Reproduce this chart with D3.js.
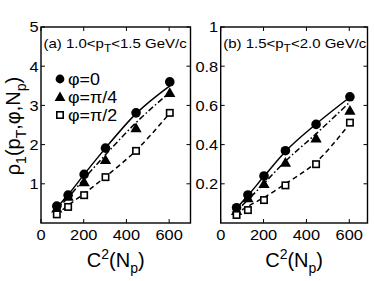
<!DOCTYPE html>
<html>
<head>
<meta charset="utf-8">
<script src="https://cdn.jsdelivr.net/npm/d3@7"></script>
<style>
  body { margin: 0; background: #fff; }
  svg text { font-family: "Liberation Sans", Arial, sans-serif; fill: #000; }
</style>
</head>
<body>
<div id="chart"></div>
<script>
// C^2(Np) for every point
var xVals = [74, 127, 202, 302, 445, 603];

// panel (a) 1.0<pT<1.5
var aPhi0   = [0.43, 0.71, 1.24, 1.91, 2.81, 3.60];
var aPhi4   = [0.37, 0.67, 1.04, 1.61, 2.42, 3.32];
var aPhi2   = [0.22, 0.41, 0.71, 1.17, 1.84, 2.81];
// fit curves: [x, y]
var aFit0 = [[64, 0.33], [127, 0.72], [202, 1.24], [302, 1.91], [445, 2.79], [603, 3.50]];
var aFit4 = [[64, 0.30], [127, 0.65], [202, 1.13], [302, 1.74], [445, 2.56], [603, 3.33]];
var aFit2 = [[70, 0.20], [127, 0.45], [202, 0.75], [302, 1.18], [445, 1.85], [590, 2.72]];

// panel (b) 1.5<pT<2.0
var bPhi0   = [0.078, 0.143, 0.240, 0.369, 0.503, 0.644];
var bPhi4   = [0.061, 0.126, 0.199, 0.308, 0.432, 0.573];
var bPhi2   = [0.041, 0.066, 0.117, 0.192, 0.300, 0.512];
var bFit0 = [[57, 0.055], [127, 0.140], [202, 0.238], [302, 0.365], [445, 0.505], [598, 0.638]];
var bFit4 = [[57, 0.045], [127, 0.118], [202, 0.202], [302, 0.315], [445, 0.455], [598, 0.612]];
var bFit2 = [[65, 0.045], [127, 0.085], [202, 0.130], [302, 0.200], [445, 0.310], [590, 0.490]];

var xTicks = [0, 200, 400, 600];
var aYTicks = [1, 2, 3, 4, 5];
var bYTicks = [0.2, 0.4, 0.6, 0.8, 1];
var legendLabels = ["\u03c6=0", "\u03c6=\u03c0/4", "\u03c6=\u03c0/2"];

var W = 374, H = 281;
var svg = d3.select("#chart").append("svg").attr("width", W).attr("height", H);

var plotTop = 27, plotBottom = 223;

// text that is a little wider than the font, like the original figure
function wideText(parent, x, y, sx, size, anchor) {
  return parent.append("g").attr("transform", "translate(" + x + "," + y + ") scale(" + sx + ",1)")
    .append("text").attr("text-anchor", anchor || "start").style("font-size", size + "px");
}

function drawPanel(opt) {
  var x = d3.scaleLinear().domain([0, opt.xmax]).range([opt.left, opt.right]);
  var y = d3.scaleLinear().domain([0, opt.ymax]).range([plotBottom, plotTop]);
  var g = svg.append("g");

  // frame
  g.append("rect").attr("x", opt.left).attr("y", plotTop)
    .attr("width", opt.right - opt.left).attr("height", plotBottom - plotTop)
    .attr("fill", "none").attr("stroke", "#000").attr("stroke-width", 1.4);

  // inward ticks on all sides
  var tl = 4;
  xTicks.forEach(function(t) {
    g.append("line").attr("x1", x(t)).attr("x2", x(t)).attr("y1", plotBottom).attr("y2", plotBottom - tl).attr("stroke", "#000");
    g.append("line").attr("x1", x(t)).attr("x2", x(t)).attr("y1", plotTop).attr("y2", plotTop + tl).attr("stroke", "#000");
    wideText(g, x(t), plotBottom + 17, 1.13, 14.5, "middle").text(t);
  });
  opt.yTicks.forEach(function(t) {
    g.append("line").attr("x1", opt.left).attr("x2", opt.left + tl).attr("y1", y(t)).attr("y2", y(t)).attr("stroke", "#000");
    g.append("line").attr("x1", opt.right).attr("x2", opt.right - tl).attr("y1", y(t)).attr("y2", y(t)).attr("stroke", "#000");
    wideText(g, opt.left - 2.5, y(t) + 5.3, 1.13, 14.5, "end").text(t);
  });

  // panel title
  var tt = wideText(g, opt.left + 2.5, plotTop + 21, 1.2, 12.5);
  tt.append("tspan").text(opt.title[0]);
  tt.append("tspan").attr("dy", 4).style("font-size", "10px").text("T");
  tt.append("tspan").attr("dy", -4).text(opt.title[1]);

  var line = d3.line().x(function(d) { return x(d[0]); }).y(function(d) { return y(d[1]); })
    .curve(d3.curveMonotoneX);

  var styles = [
    { fit: opt.fits[0], dash: null },
    { fit: opt.fits[1], dash: "6,2.5,1.5,2.5" },
    { fit: opt.fits[2], dash: "5,3.5" }
  ];
  styles.forEach(function(s) {
    g.append("path").datum(s.fit).attr("d", line).attr("fill", "none")
      .attr("stroke", "#000").attr("stroke-width", 1.5)
      .attr("stroke-dasharray", s.dash);
  });

  var pts = function(vals) { return vals.map(function(v, i) { return [xVals[i], v]; }); };

  g.selectAll(".c").data(pts(opt.series[0])).enter().append("circle")
    .attr("cx", function(d) { return x(d[0]); }).attr("cy", function(d) { return y(d[1]); })
    .attr("r", 4.8).attr("fill", "#000");

  var tri = d3.symbol().type(d3.symbolTriangle).size(55);
  g.selectAll(".t").data(pts(opt.series[1])).enter().append("path")
    .attr("d", tri).attr("transform", function(d) { return "translate(" + x(d[0]) + "," + (y(d[1]) + 0.8) + ")"; })
    .attr("fill", "#000");

  g.selectAll(".s").data(pts(opt.series[2])).enter().append("rect")
    .attr("x", function(d) { return x(d[0]) - 3.2; }).attr("y", function(d) { return y(d[1]) - 3.2; })
    .attr("width", 6.4).attr("height", 6.4)
    .attr("fill", "#fff").attr("stroke", "#000").attr("stroke-width", 1.6);

  // x label
  var xl = g.append("text").attr("x", (opt.left + opt.right) / 2).attr("y", 267)
    .attr("text-anchor", "middle").style("font-size", "20px");
  xl.append("tspan").text("C");
  xl.append("tspan").attr("dy", -8).style("font-size", "14px").text("2");
  xl.append("tspan").attr("dy", 8).text("(N");
  xl.append("tspan").attr("dy", 6).style("font-size", "14px").text("p");
  xl.append("tspan").attr("dy", -6).text(")");

  return { x: x, y: y, g: g };
}

var pa = drawPanel({
  left: 41, right: 190.5, xmax: 700, ymax: 5, yTicks: aYTicks,
  title: ["(a) 1.0<p", "<1.5 GeV/c"],
  series: [aPhi0, aPhi4, aPhi2], fits: [aFit0, aFit4, aFit2]
});

var pb = drawPanel({
  left: 220.7, right: 367.5, xmax: 685, ymax: 1, yTicks: bYTicks,
  title: ["(b) 1.5<p", "<2.0 GeV/c"],
  series: [bPhi0, bPhi4, bPhi2], fits: [bFit0, bFit4, bFit2]
});

// legend in panel (a)
var lg = svg.append("g");
var ly = [79, 97, 115];
legendLabels.forEach(function(lab, i) {
  var cy = ly[i], cx = 60;
  if (i === 0) lg.append("circle").attr("cx", cx).attr("cy", cy).attr("r", 4.4).attr("fill", "#000");
  if (i === 1) lg.append("path").attr("d", d3.symbol().type(d3.symbolTriangle).size(50)())
    .attr("transform", "translate(" + cx + "," + (cy + 0.8) + ")").attr("fill", "#000");
  if (i === 2) lg.append("rect").attr("x", cx - 3.2).attr("y", cy - 3.2).attr("width", 6.4).attr("height", 6.4)
    .attr("fill", "#fff").attr("stroke", "#000").attr("stroke-width", 1.6);
  wideText(lg, 68, cy + 6, 1.05, 17).text(lab);
});

// y label
var yl = svg.append("text").attr("transform", "translate(20,126) rotate(-90)")
  .attr("text-anchor", "middle").style("font-size", "20px");
yl.append("tspan").text("\u03c1");
yl.append("tspan").attr("dy", 6).style("font-size", "14px").text("1");
yl.append("tspan").attr("dy", -6).text("(p");
yl.append("tspan").attr("dy", 6).style("font-size", "14px").text("T");
yl.append("tspan").attr("dy", -6).text(",\u03c6,N");
yl.append("tspan").attr("dy", 6).style("font-size", "14px").text("p");
yl.append("tspan").attr("dy", -6).text(")");
</script>
</body>
</html>
